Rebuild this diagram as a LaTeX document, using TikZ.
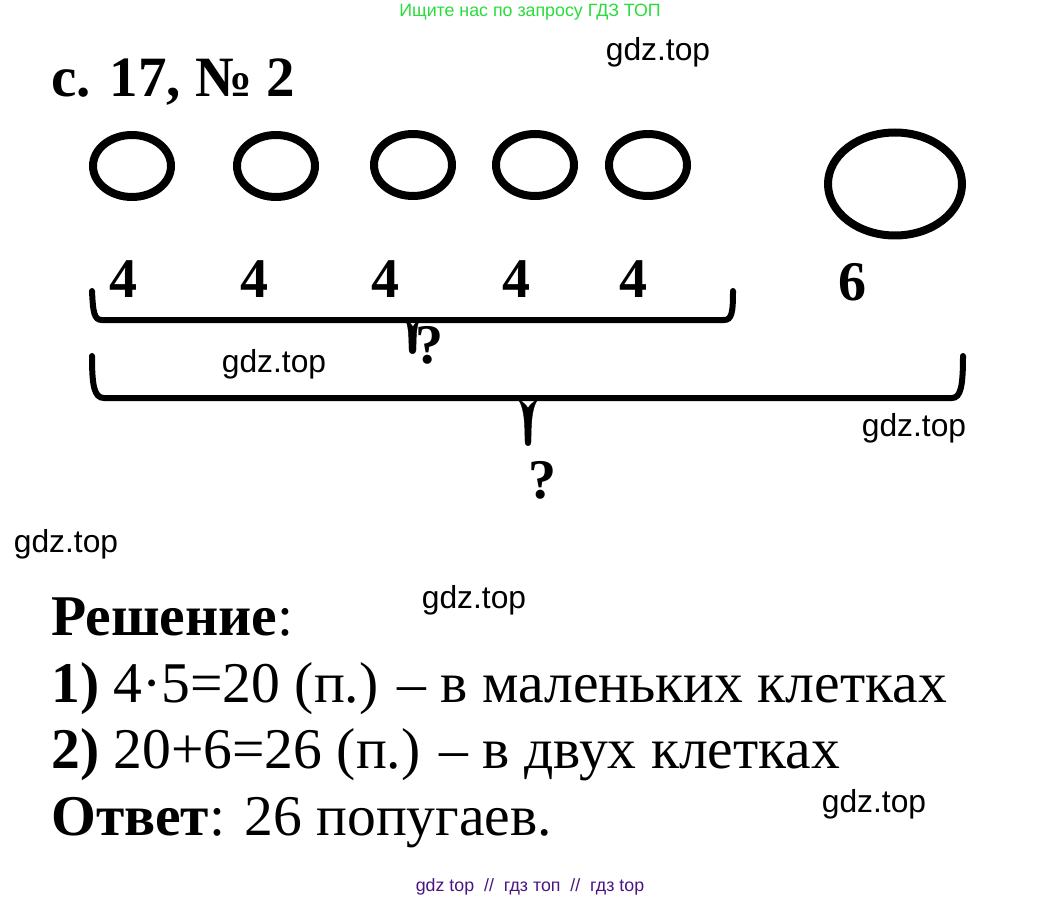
\documentclass[tikz,border=0pt]{standalone}
\usepackage{fontspec}
\setmainfont{Liberation Serif}
\newfontfamily\wmfont{Liberation Sans}
\usetikzlibrary{positioning,shapes.geometric}
\definecolor{topgreen}{RGB}{40,220,60}
\definecolor{botviolet}{RGB}{75,20,130}
\tikzset{
  cage/.style={draw,line width=8pt,ellipse,inner sep=0pt},
  num/.style={font=\bfseries\fontsize{56}{56}\selectfont,inner sep=0pt},
  wm/.style={font=\wmfont\fontsize{31.8}{32}\selectfont,inner sep=0pt},
  bandtext/.style={font=\wmfont\fontsize{17.8}{18}\selectfont,inner sep=0pt},
  sol/.style={font=\fontsize{57.6}{58}\selectfont,anchor=base west,inner sep=0pt},
  brace/.style={line width=6pt,line cap=round}
}
\begin{document}
\begin{tikzpicture}[x=1pt,y=-1pt]
  \useasboundingbox (0,0) rectangle (1060,901);
  \fill[white] (0,0) rectangle (1060,901);

  % watermarks
  \node[bandtext,text=topgreen] (head) at (530,12) {Ищите нас по запросу ГДЗ ТОП};
  \node[bandtext,text=botviolet] (foot) at (530,887) {gdz top \ // \ гдз топ \ // \ гдз top};
  \node[wm] (wma) at (658,52) {gdz.top};
  \node[wm] (wmb) at (274,364) {gdz.top};
  \node[wm] (wmc) at (914,428) {gdz.top};
  \node[wm] (wmd) at (66,544) {gdz.top};
  \node[wm] (wme) at (474,600) {gdz.top};
  \node[wm] (wmf) at (874,804) {gdz.top};

  % title
  \node[font=\bfseries\fontsize{57}{57}\selectfont,anchor=base west,inner sep=0pt] (title) at (51,97) {с. 17, № 2};

  % cages
  \node[cage,minimum width=78pt,minimum height=62pt] (c1) at (132,166) {};
  \node[cage,minimum width=78pt,minimum height=62pt] (c2) at (276,166) {};
  \node[cage,minimum width=78pt,minimum height=62pt] (c3) at (413,165) {};
  \node[cage,minimum width=78pt,minimum height=62pt] (c4) at (535,165) {};
  \node[cage,minimum width=78pt,minimum height=62pt] (c5) at (648,165) {};
  \node[cage,minimum width=134pt,minimum height=103pt] (c6) at (895,184) {};

  % numbers
  \node[num] (n1) at (123,279) {4};
  \node[num] (n2) at (254,279) {4};
  \node[num] (n3) at (385,279) {4};
  \node[num] (n4) at (516,279) {4};
  \node[num] (n5) at (633,279) {4};
  \node[num] (n6) at (852,282) {6};

  % braces
  \draw[brace] (92,291) .. controls (93,312) and (94,320) .. (102,320) -- (724,320)
    .. controls (732,320) and (733,312) .. (733,291);
  \draw[fill] (405,319) .. controls (409,322) and (412,325) .. (413,327)
    .. controls (414,325) and (416,322) .. (420,319)
    .. controls (417,324) and (416,332) .. (416,350)
    .. controls (416,355) and (409,355) .. (409,350)
    .. controls (409,332) and (408,324) .. (405,319) -- cycle;
  \node[num] (q1) at (429,345) {?};
  \draw[brace] (92,356) .. controls (92,385) and (94,398) .. (104,398) -- (952,398)
    .. controls (961,398) and (963,385) .. (963,356);
  \draw[fill] (518,399) .. controls (523,402) and (526,405) .. (528,408)
    .. controls (530,405) and (533,402) .. (538,399)
    .. controls (533,406) and (531,416) .. (531,442)
    .. controls (531,447) and (525,447) .. (525,442)
    .. controls (525,416) and (523,406) .. (518,399) -- cycle;
  \node[num] (q2) at (542,480) {?};

  % solution
  \node[sol] (s0) at (51,635) {\textbf{Решение}:};
  \node[sol] (s1) at (51,702) {\textbf{1)} 4·5=20 (п.) – в маленьких клетках};
  \node[sol] (s2) at (51,768) {\textbf{2)} 20+6=26 (п.) – в двух клетках};
  \node[sol] (s3) at (51,835) {\textbf{Ответ}: 26 попугаев.};
\end{tikzpicture}
\end{document}
